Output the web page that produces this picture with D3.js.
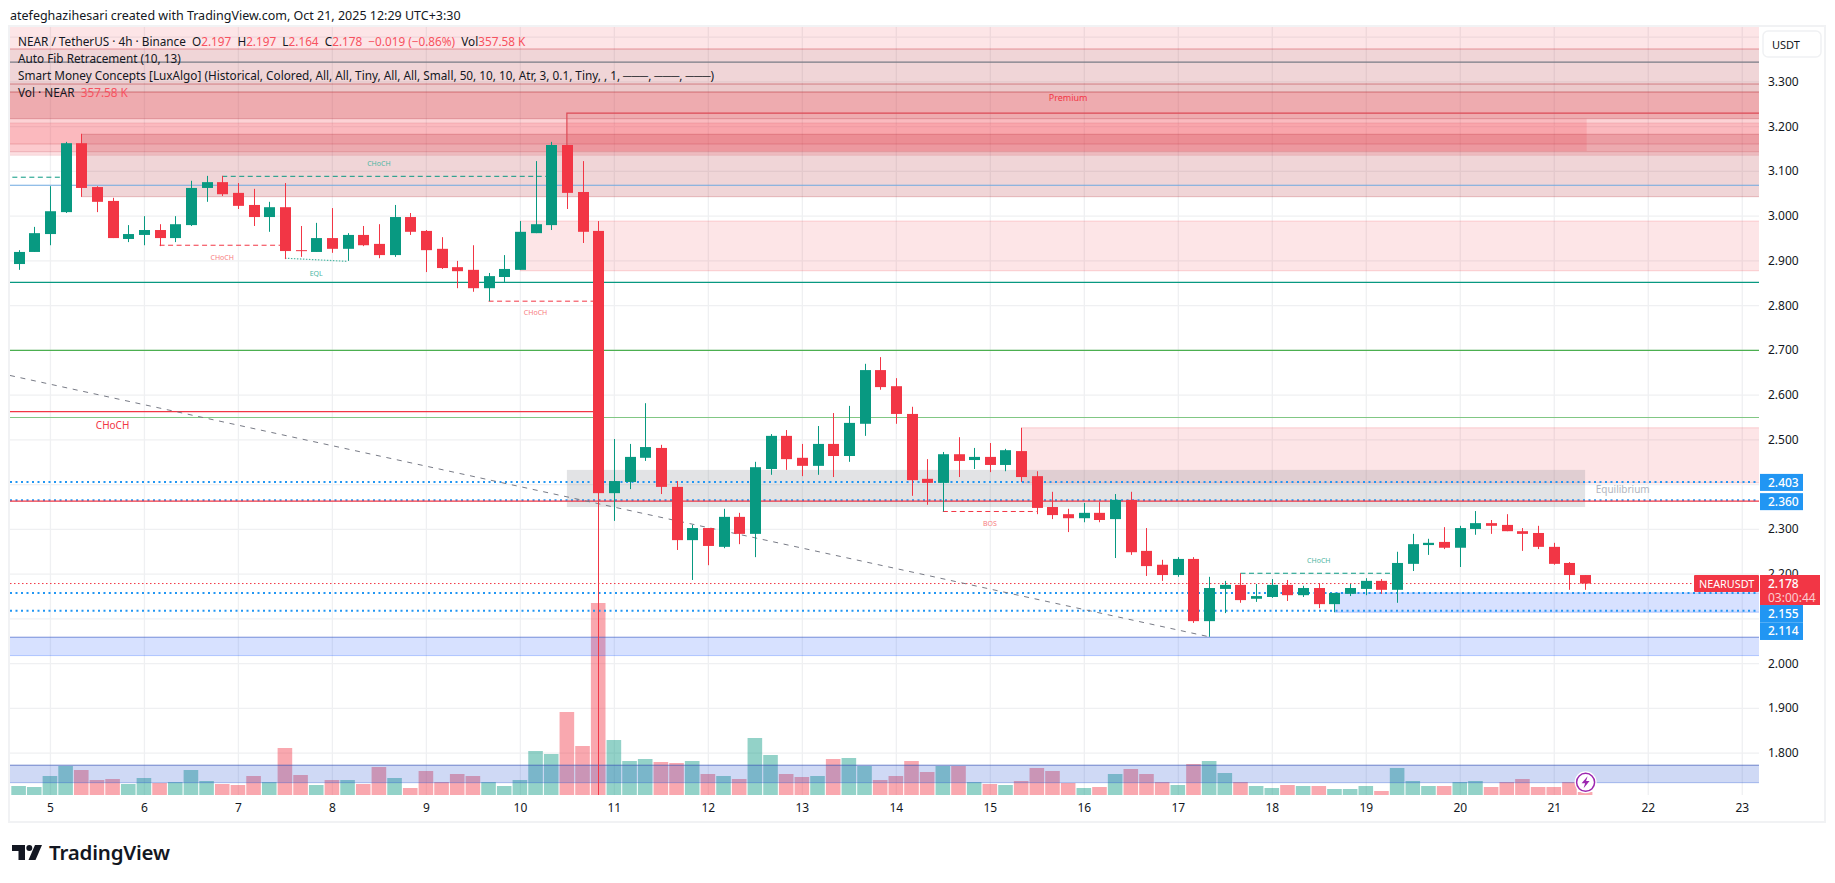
<![CDATA[<!DOCTYPE html>
<html><head><meta charset="utf-8">
<script src="https://cdn.jsdelivr.net/npm/d3@7"></script>
<style>html,body{margin:0;background:#fff}svg{display:block}text{font-family:"Noto Sans",sans-serif}</style>
</head><body><svg id="c" width="1835" height="883"></svg>
<script>
// ---- candle data (4h NEAR/USDT), read from the picture
const opens=[2.892,2.919,2.959,3.008,3.162,3.064,3.033,2.948,2.957,2.968,2.950,2.979,3.062,3.075,3.051,3.024,2.997,3.019,2.923,2.919,2.950,2.926,2.957,2.937,2.912,2.997,2.966,2.926,2.885,2.879,2.838,2.863,2.879,2.961,2.979,3.158,3.053,2.966,2.380,2.405,2.459,2.481,2.394,2.275,2.302,2.260,2.327,2.289,2.434,2.508,2.459,2.441,2.490,2.463,2.535,2.655,2.619,2.557,2.412,2.403,2.467,2.454,2.461,2.443,2.474,2.418,2.349,2.333,2.324,2.336,2.322,2.365,2.251,2.220,2.197,2.233,2.094,2.166,2.175,2.144,2.148,2.175,2.152,2.168,2.132,2.155,2.166,2.184,2.164,2.222,2.264,2.271,2.258,2.300,2.313,2.309,2.295,2.291,2.260,2.224,2.197];
const highs=[2.923,2.975,3.066,3.165,3.183,3.066,3.040,2.979,2.999,2.981,2.999,3.078,3.089,3.089,3.073,3.060,3.031,3.073,2.977,2.984,3.017,2.961,2.977,2.981,3.024,3.006,2.968,2.952,2.899,2.934,2.872,2.912,2.988,3.122,3.165,3.158,3.122,2.988,2.501,2.490,2.581,2.488,2.407,2.309,2.302,2.345,2.336,2.450,2.512,2.521,2.490,2.530,2.559,2.575,2.669,2.684,2.637,2.573,2.456,2.472,2.505,2.481,2.492,2.479,2.526,2.429,2.383,2.345,2.358,2.360,2.378,2.383,2.302,2.231,2.237,2.237,2.193,2.184,2.201,2.177,2.188,2.186,2.173,2.179,2.157,2.177,2.190,2.188,2.249,2.289,2.278,2.304,2.307,2.340,2.320,2.333,2.302,2.307,2.269,2.226,2.197];
const lows=[2.879,2.919,2.934,3.006,3.042,3.008,2.950,2.941,2.934,2.932,2.941,2.977,3.031,3.044,3.015,2.977,2.964,2.903,2.908,2.919,2.917,2.899,2.932,2.905,2.908,2.957,2.874,2.881,2.838,2.830,2.809,2.852,2.879,2.961,2.968,3.015,2.939,1.700,2.318,2.389,2.452,2.378,2.253,2.186,2.219,2.257,2.266,2.237,2.421,2.432,2.418,2.421,2.416,2.450,2.508,2.611,2.535,2.374,2.354,2.339,2.416,2.434,2.427,2.429,2.405,2.333,2.322,2.293,2.315,2.315,2.235,2.242,2.195,2.184,2.193,2.090,2.059,2.112,2.135,2.137,2.146,2.139,2.148,2.123,2.114,2.150,2.152,2.155,2.135,2.206,2.242,2.255,2.215,2.287,2.289,2.295,2.251,2.255,2.220,2.164,2.164];
const closes=[2.919,2.961,3.010,3.162,3.062,3.031,2.950,2.959,2.968,2.950,2.981,3.062,3.075,3.048,3.022,2.997,3.019,2.921,2.921,2.950,2.926,2.957,2.934,2.912,2.997,2.964,2.923,2.883,2.876,2.838,2.865,2.881,2.964,2.981,3.158,3.051,2.964,2.380,2.407,2.461,2.483,2.394,2.275,2.302,2.262,2.327,2.289,2.438,2.508,2.456,2.441,2.490,2.463,2.537,2.655,2.617,2.557,2.409,2.403,2.467,2.452,2.461,2.443,2.476,2.416,2.347,2.331,2.324,2.336,2.320,2.365,2.248,2.217,2.197,2.233,2.094,2.168,2.175,2.141,2.150,2.175,2.152,2.168,2.132,2.157,2.168,2.184,2.164,2.224,2.266,2.269,2.258,2.302,2.313,2.307,2.295,2.289,2.260,2.222,2.197,2.178];
const volumesK=[1080,960,2280,3480,3000,1800,1920,1320,2040,1440,1560,3000,1680,1320,1200,2280,1560,5640,2400,1200,1800,1800,1320,3360,2040,840,2880,1560,2520,2280,1560,1080,1800,5280,4920,9960,5880,23040,6600,4080,4320,3960,3840,4080,2520,2280,1920,6840,4800,2520,2160,2280,4320,4440,3480,1800,2280,4080,2760,3480,3480,1560,1320,1200,1680,3240,2880,1440,840,960,2520,3120,2520,1560,1200,3720,4080,2640,1560,1080,840,1200,1080,1080,720,720,1080,480,3240,1680,1080,1080,1560,1680,960,1560,1920,960,960,1560,358];
// ---- axes
const days=[5,6,7,8,9,10,11,12,13,14,15,16,17,18,19,20,21,22,23];
const gridPrices=[3.4,3.3,3.2,3.1,3.0,2.9,2.8,2.7,2.6,2.5,2.4,2.3,2.2,2.1,2.0,1.9,1.8];
const axisPrices=[3.3,3.2,3.1,3.0,2.9,2.8,2.7,2.6,2.5,2.3,2.2,2.0,1.9,1.8];
// ---- full-width and partial zones: start bar, end bar, top price, bottom price, style key
const zoneStart=[-0.6,-0.6,-0.6,-0.6,-0.6,-0.6,-0.6,-0.6,4,35,32,64,35,84,-0.6,-0.6];
const zoneEnd=[111.1,111.1,111.1,111.1,111.1,111.1,111.1,111.1,111.1,100.1,111.1,111.1,100,111.1,111.1,111.1];
const zoneTop=[3.43,3.3725,3.2943,3.2764,3.2168,3.2072,3.1602,3.143,3.182,3.2168,2.988,2.526,2.432,2.157,2.058,1.772];
const zoneBottom=[3.3725,3.2943,3.2764,3.2168,3.2072,3.1602,3.143,3.135,3.0425,3.1446,2.877,2.403,2.349,2.114,2.017,1.733];
const zoneKind=["a","b","c","d","e","f","g","h","b","p","a","a","q","s","s","v"];
const zoneFill={a:"rgba(242,54,69,.13)",b:"rgba(180,45,55,.2)",c:"rgba(180,45,55,.26)",d:"rgba(213,45,55,.4)",e:"rgba(240,30,45,.2)",f:"rgba(243,43,58,.33)",g:"rgba(243,43,58,.25)",h:"rgba(243,43,58,.15)",p:"rgba(242,54,69,.15)",q:"rgba(120,123,134,.21)",s:"rgba(41,98,255,.19)",v:"rgba(37,82,210,.22)"};
const zoneEdge={a:"rgba(242,54,69,.2)",b:"rgba(180,45,55,.28)",c:"rgba(180,45,55,.28)",d:"rgba(180,45,55,.3)",e:"rgba(0,0,0,0)",f:"rgba(180,45,55,.12)",g:"rgba(180,45,55,.1)",h:"rgba(180,45,55,.1)",p:"rgba(0,0,0,0)",q:"rgba(0,0,0,0)",s:"rgba(41,98,255,.3)",v:"rgba(37,82,210,.35)"};
// ---- horizontal levels
const levelPrices=[3.343,3.068,2.851,2.699,2.549,2.362];
const levelColors=["#787b86","#6ea8e0","#089981","#4caf50","#81c784","#f23645"];
const dottedPrices=[2.405,2.364,2.157,2.117];
const structStart=[-0.4,13,9,30,59,78];
const structEnd=[3,34,17,37,65,88];
const structPrice=[3.086,3.088,2.934,2.809,2.339,2.201];
const structColor=["#089981","#089981","#f23645","#f23645","#f23645","#089981"];
const labelText=["CHoCH","CHoCH","CHoCH","BOS","CHoCH","EQL"];
const labelBar=[23,13,33,62,83,19];
const labelPrice=[3.117,2.907,2.784,2.313,2.23,2.871];
const labelColor=["#4db6a3","#f77c80","#f77c80","#f77c80","#4db6a3","#4db6a3"];
const eqlBars=[17,21], eqlPrices=[2.905,2.898];
const trendBars=[-0.55,76], trendPrices=[2.643,2.059];
const strongHighBars=[35,35,111.1], strongHighPrices=[3.158,3.229,3.229];
const redLevelBars=[-0.6,37], redLevelPrice=2.562;
const tagTexts=["2.403","2.360","2.155","2.114"];
const tagTops=[2.423,2.380,2.130,2.091];
const lastPrice=2.178;
const legendLines=["Auto Fib Retracement (10, 13)","Smart Money Concepts [LuxAlgo] (Historical, Colored, All, All, Tiny, All, All, Small, 50, 10, 10, Atr, 3, 0.1, Tiny, , 1, ───, ───, ───)"];

const W=1835,pL=10,pR=1759,pT=27,pB=795;
const svg=d3.select("#c");
const x=d3.scaleLinear().domain([0,100]).range([18.6,1585.1]);
const y=d3.scaleLinear().domain([3,1.8]).range([215.7,752.7]);
const vy=d3.scaleLinear().domain([0,24000]).range([795,595]);
const dayIndex=d=>2+6*(d-5);
svg.append("defs").append("clipPath").attr("id","plot").append("rect").attr("x",pL).attr("y",pT).attr("width",pR-pL).attr("height",pB-pT);

// frame
svg.append("rect").attr("x",9).attr("y",26).attr("width",1816).attr("height",796).attr("fill","#fff").attr("stroke","#f1f2f4").attr("stroke-width",2);

const plot=svg.append("g").attr("clip-path","url(#plot)");
// grids through axes
const gy=plot.append("g").attr("transform",`translate(${pL},0)`).call(d3.axisRight(y).tickValues(gridPrices).tickSize(pR-pL).tickFormat(""));
const gx=plot.append("g").attr("transform",`translate(0,${pB})`).call(d3.axisTop(x).tickValues(days.map(dayIndex)).tickSize(pB-pT).tickFormat(""));
[gy,gx].forEach(g=>{g.select(".domain").remove();g.selectAll("text").remove();g.selectAll("line").attr("stroke","#eff0f2").attr("stroke-width",1.3);});

// volume
const bars=d3.range(opens.length);
const isUp=i=>closes[i]>=opens[i];
plot.append("g").selectAll("rect").data(bars).join("rect")
 .attr("x",i=>x(i)-7.3).attr("width",14.6).attr("y",i=>vy(volumesK[i])).attr("height",i=>795-vy(volumesK[i]))
 .attr("fill",i=>isUp(i)?"rgba(8,153,129,.44)":"rgba(242,54,69,.43)");

// zones
const zi=d3.range(zoneTop.length);
plot.append("g").selectAll("rect").data(zi).join("rect")
 .attr("x",i=>x(zoneStart[i])).attr("width",i=>x(zoneEnd[i])-x(zoneStart[i]))
 .attr("y",i=>y(zoneTop[i])).attr("height",i=>y(zoneBottom[i])-y(zoneTop[i]))
 .attr("fill",i=>zoneFill[zoneKind[i]]);
const ze=plot.append("g");
zi.forEach(i=>{[zoneTop[i],zoneBottom[i]].forEach(p=>{
 ze.append("line").attr("x1",x(zoneStart[i])).attr("x2",x(zoneEnd[i])).attr("y1",y(p)).attr("y2",y(p)).attr("stroke",zoneEdge[zoneKind[i]]).attr("stroke-width",1);
});});
// blue strong top edges
[2.058,1.772].forEach(p=>plot.append("line").attr("x1",pL).attr("x2",pR).attr("y1",y(p)).attr("y2",y(p)).attr("stroke","rgba(70,90,170,.45)").attr("stroke-width",1));

// levels
const lv=plot.append("g");
dottedPrices.forEach(p=>lv.append("line").attr("x1",pL).attr("x2",pR).attr("y1",y(p)).attr("y2",y(p)).attr("stroke","#2196f3").attr("stroke-width",2).attr("stroke-dasharray","2 3.5"));
levelPrices.forEach((p,i)=>lv.append("line").attr("x1",pL).attr("x2",pR).attr("y1",y(p)).attr("y2",y(p)).attr("stroke",levelColors[i]).attr("stroke-width",1.2));
lv.append("line").attr("x1",x(redLevelBars[0])).attr("x2",x(redLevelBars[1])).attr("y1",y(redLevelPrice)).attr("y2",y(redLevelPrice)).attr("stroke","#f23645").attr("stroke-width",1.2);
const ln=d3.line().x(d=>x(d[0])).y(d=>y(d[1]));
lv.append("path").attr("d",ln(d3.zip(strongHighBars,strongHighPrices))).attr("fill","none").attr("stroke","#dc4a56").attr("stroke-width",1.2);
lv.append("line").attr("x1",pL).attr("x2",pR).attr("y1",y(lastPrice)).attr("y2",y(lastPrice)).attr("stroke","#f23645").attr("stroke-width",1).attr("stroke-dasharray","1.5 2.5");
lv.append("path").attr("d",ln(d3.zip(trendBars,trendPrices))).attr("fill","none").attr("stroke","#787b86").attr("stroke-width",1).attr("stroke-dasharray","5 5.7");
structPrice.forEach((p,i)=>lv.append("line").attr("x1",x(structStart[i])).attr("x2",x(structEnd[i])).attr("y1",y(p)).attr("y2",y(p)).attr("stroke",structColor[i]).attr("stroke-width",1).attr("stroke-dasharray","5 3.5"));
lv.append("path").attr("d",ln(d3.zip(eqlBars,eqlPrices))).attr("fill","none").attr("stroke","#4db6a3").attr("stroke-width",1.2).attr("stroke-dasharray","1.5 1.5");

// candles
const c=plot.append("g");
c.selectAll("line").data(bars).join("line")
 .attr("x1",i=>Math.round(x(i))+.5).attr("x2",i=>Math.round(x(i))+.5)
 .attr("y1",i=>y(highs[i])).attr("y2",i=>y(lows[i]))
 .attr("stroke",i=>isUp(i)?"#089981":"#f23645").attr("stroke-width",1);
c.selectAll("rect").data(bars).join("rect")
 .attr("x",i=>Math.round(x(i))-5).attr("width",11)
 .attr("y",i=>y(Math.max(opens[i],closes[i])))
 .attr("height",i=>Math.max(1,Math.abs(y(opens[i])-y(closes[i]))))
 .attr("fill",i=>isUp(i)?"#089981":"#f23645");

// labels in plot
const t=plot.append("g").attr("text-anchor","middle");
labelText.forEach((s,i)=>t.append("text").attr("x",x(labelBar[i])).attr("y",y(labelPrice[i])+2.5).attr("font-size",7).attr("fill",labelColor[i]).text(s));
t.append("text").attr("x",x(6)).attr("y",y(2.531)+3.5).attr("font-size",10).attr("fill","#f23645").text("CHoCH");
t.append("text").attr("x",x(67)).attr("y",y(3.263)+3).attr("font-size",9).attr("fill","#f23645").text("Premium");
t.append("text").attr("x",x(102.4)).attr("y",y(2.389)+3.5).attr("font-size",10).attr("fill","#b2b5be").text("Equilibrium");

// bolt marker
const bx=x(100)+.5,by=782.3;
const bolt=svg.append("g").attr("transform",`translate(${bx},${by})`);
bolt.append("circle").attr("r",11).attr("fill","#fff");
bolt.append("circle").attr("r",9).attr("fill","#fff").attr("stroke","#9c27b0").attr("stroke-width",1.5);
bolt.append("path").attr("d","M2,-6 L-4,1 L-0.5,1 L-2,6 L4,-1.2 L0.5,-1.2 Z").attr("fill","#9c27b0");

// axes
const ax=svg.append("g").attr("transform",`translate(${pR},0)`).call(d3.axisRight(y).tickValues(axisPrices).tickSize(0).tickPadding(9).tickFormat(d3.format(".3f")));
ax.select(".domain").remove();
ax.selectAll("text").attr("font-size",12).attr("fill","#131722").style("font-family",'"Noto Sans",sans-serif');
const bxA=svg.append("g").attr("transform",`translate(0,${pB})`).call(d3.axisBottom(x).tickValues(days.map(dayIndex)).tickSize(0).tickPadding(8).tickFormat((d,i)=>days[i]));
bxA.select(".domain").remove();
bxA.selectAll("text").attr("font-size",12).attr("fill","#131722").style("font-family",'"Noto Sans",sans-serif');

// USDT button
svg.append("rect").attr("x",1763).attr("y",31).attr("width",58).attr("height",26).attr("rx",5).attr("fill","#fff").attr("stroke","#f0f1f3").attr("stroke-width",1.5);
svg.append("text").attr("x",1772).attr("y",48.5).attr("font-size",11).attr("fill","#131722").text("USDT");

// price tags
tagTexts.forEach((s,i)=>{
 const top=y(tagTops[i]);
 svg.append("rect").attr("x",1760).attr("y",top).attr("width",43).attr("height",i>1?17.5:17).attr("fill","#2196f3");
 svg.append("text").attr("x",1768).attr("y",top+13).attr("font-size",12).attr("font-weight",500).attr("fill","#fff").text(s);
});
svg.append("rect").attr("x",1760).attr("y",575).attr("width",60).attr("height",30).attr("fill","#f23645");
svg.append("text").attr("x",1768).attr("y",588).attr("font-size",12).attr("font-weight",500).attr("fill","#fff").text("2.178");
svg.append("text").attr("x",1768).attr("y",602).attr("font-size",12).attr("fill","#fff").attr("fill-opacity",.75).text("03:00:44");
svg.append("rect").attr("x",1694).attr("y",575).attr("width",65).attr("height",17).attr("rx",1).attr("fill","#f23645");
svg.append("text").attr("x",1699).attr("y",587.5).attr("font-size",10.8).attr("fill","#fff").text("NEARUSDT");

// legend
const leg=svg.append("g").attr("font-size",11.78).attr("fill","#131722");
const l1=leg.append("text").attr("x",18).attr("y",46);
const red="#f7525f";
[["NEAR / TetherUS · 4h · Binance  ",0],["O",0],["2.197",1],["  H",0],["2.197",1],["  L",0],["2.164",1],["  C",0],["2.178",1],["  −0.019 (−0.86%)",1],["  Vol",0],["357.58 K",1]]
 .forEach(([s,r])=>l1.append("tspan").attr("xml:space","preserve").style("white-space","pre").attr("fill",r?red:"#131722").text(s));
leg.append("text").attr("x",18).attr("y",63).text(legendLines[0]);
leg.append("text").attr("x",18).attr("y",80).text(legendLines[1]);
const l4=leg.append("text").attr("x",18).attr("y",97);
l4.append("tspan").style("white-space","pre").text("Vol · NEAR  ");
l4.append("tspan").attr("fill",red).text("357.58 K");

// title
svg.append("text").attr("x",10).attr("y",20).attr("font-size",12.5).attr("fill","#131722").text("atefeghazihesari created with TradingView.com, Oct 21, 2025 12:29 UTC+3:30");

// logo
const logo=svg.append("g").attr("transform","translate(12,845)").attr("fill","#131722");
logo.append("path").attr("d","M0,0H13V15H6.5V6H0Z");
logo.append("circle").attr("cx",17.3).attr("cy",3).attr("r",3);
logo.append("path").attr("d","M23,0H30L23.5,15H16.5Z");
svg.append("text").attr("x",49).attr("y",860).attr("font-size",20.5).attr("font-weight",600).attr("fill","#131722").attr("letter-spacing",-.2).text("TradingView");
</script></body></html>]]>
